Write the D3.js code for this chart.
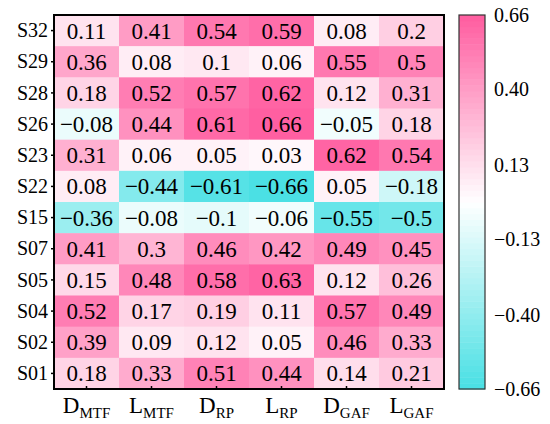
<!DOCTYPE html>
<html><head><meta charset="utf-8">
<script src="https://cdn.jsdelivr.net/npm/d3@7"></script>
<style>body{margin:0;background:#fff}svg{display:block}</style>
</head><body><svg id="c" width="550" height="424"></svg>
<script>
const rows = ["S32","S29","S28","S26","S23","S22","S15","S07","S05","S04","S02","S01"];
const colMain = ["D","L","D","L","D","L"];
const colSub = ["MTF","MTF","RP","RP","GAF","GAF"];
const values = [
  [0.11,0.41,0.54,0.59,0.08,0.2],
  [0.36,0.08,0.1,0.06,0.55,0.5],
  [0.18,0.52,0.57,0.62,0.12,0.31],
  [-0.08,0.44,0.61,0.66,-0.05,0.18],
  [0.31,0.06,0.05,0.03,0.62,0.54],
  [0.08,-0.44,-0.61,-0.66,0.05,-0.18],
  [-0.36,-0.08,-0.1,-0.06,-0.55,-0.5],
  [0.41,0.3,0.46,0.42,0.49,0.45],
  [0.15,0.48,0.58,0.63,0.12,0.26],
  [0.52,0.17,0.19,0.11,0.57,0.49],
  [0.39,0.09,0.12,0.05,0.46,0.33],
  [0.18,0.33,0.51,0.44,0.14,0.21]
];
const cbTicks = [0.66,0.40,0.13,-0.13,-0.40,-0.66];
const cbTickLabels = ["0.66","0.40","0.13","\u22120.13","\u22120.40","\u22120.66"];

const FONT = "Liberation Serif";
const svg = d3.select("#c");
const L=54, T=15, R=444, B=389;
const x = d3.scaleBand().domain(d3.range(6)).range([L,R]);
const y = d3.scaleBand().domain(rows).range([T,B]);
const color = d3.scaleLinear().domain([-0.66,0,0.66]).range(["#48dfe4","#ffffff","#ff5c9f"]).clamp(true);
const nb = 64;
const quant = v => { const t = Math.min(nb-1, Math.floor((v+0.66)/1.32*nb)); return color(-0.66 + (t+0.5)*1.32/nb); };

const cells = [];
values.forEach((r,i)=>r.forEach((v,j)=>cells.push({r:rows[i],c:j,v})));
svg.append("g").selectAll("rect").data(cells).join("rect")
  .attr("x",d=>x(d.c)).attr("y",d=>y(d.r)).attr("width",x.bandwidth()+0.5).attr("height",y.bandwidth()+0.5)
  .attr("fill",d=>quant(d.v));
svg.append("g").selectAll("text").data(cells).join("text")
  .attr("x",d=>x(d.c)+x.bandwidth()/2).attr("y",d=>y(d.r)+y.bandwidth()/2+8)
  .attr("text-anchor","middle").style("font-size","23px").style("font-family",FONT).attr("fill","#000")
  .text(d=>String(d.v).replace("-","\u2212"));

// y axis
const ya = svg.append("g").attr("transform",`translate(${L},0)`).call(d3.axisLeft(y).tickSize(3).tickPadding(3));
ya.select(".domain").remove();
ya.selectAll("line").attr("stroke","#000").attr("stroke-width",1.5);
ya.selectAll("text").style("font-size","20px").style("font-family",FONT).attr("fill","#000").attr("dy","0.33em");

// x axis ticks (inward)
const xa = svg.append("g");
xa.selectAll("line").data(d3.range(6)).join("line")
  .attr("x1",d=>x(d)+x.bandwidth()/2).attr("x2",d=>x(d)+x.bandwidth()/2)
  .attr("y1",B).attr("y2",B-3).attr("stroke","#000").attr("stroke-width",1.5);
const xl = xa.selectAll("text").data(d3.range(6)).join("text")
  .attr("x",d=>x(d)+x.bandwidth()/2).attr("y",413).attr("text-anchor","middle").style("font-family",FONT).attr("fill","#000");
xl.append("tspan").style("font-size","23px").text(d=>colMain[d]);
xl.append("tspan").style("font-size","15px").attr("dy",5).text(d=>colSub[d]);

// frame
svg.append("rect").attr("x",L).attr("y",T).attr("width",R-L).attr("height",B-T)
  .attr("fill","none").attr("stroke","#000").attr("stroke-width",2);

// colorbar
const cbX=459, cbW=26;
const cy = d3.scaleLinear().domain([0.66,-0.66]).range([T,B]);
const bands = d3.range(nb);
svg.append("g").selectAll("rect").data(bands).join("rect")
  .attr("x",cbX).attr("width",cbW)
  .attr("y",d=>cy(-0.66+(d+1)*1.32/nb)).attr("height",(B-T)/nb+0.5)
  .attr("fill",d=>color(-0.66+(d+0.5)*1.32/nb));
svg.append("rect").attr("x",cbX).attr("y",T).attr("width",cbW).attr("height",B-T)
  .attr("fill","none").attr("stroke","#333").attr("stroke-width",1.2);
svg.append("g").selectAll("text").data(cbTicks).join("text")
  .attr("x",494).attr("y",d=>cy(d)+7).style("font-size","20px").style("font-family",FONT).attr("fill","#000")
  .text((d,i)=>cbTickLabels[i]);
</script></body></html>
